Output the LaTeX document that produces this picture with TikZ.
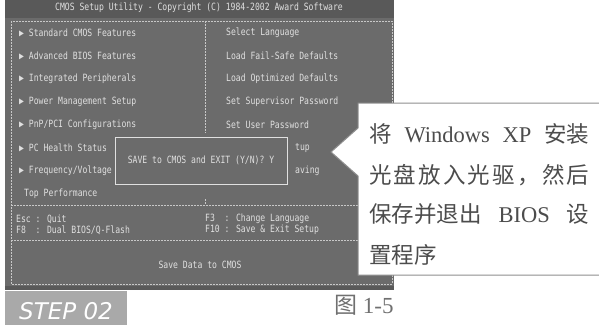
\documentclass[tikz,border=0pt]{standalone}
\usepackage{fontspec}
\setmainfont{Liberation Serif}
\setsansfont{DejaVu Sans}
\newfontfamily\biosfont[FakeStretch=0.81]{DejaVu Sans Mono}
\newfontfamily\cjk{Noto Sans CJK SC}
\usepackage{tikz}
\usetikzlibrary{backgrounds,calc}
\definecolor{screengray}{HTML}{6B6B6B}
\definecolor{titlegray}{HTML}{595959}
\definecolor{biostext}{HTML}{E0E0E0}
\definecolor{framegray}{HTML}{C8C8C8}
\definecolor{stepgray}{HTML}{A9A9A9}
\definecolor{calloutline}{HTML}{8E8E8E}
\definecolor{notetext}{HTML}{4C4C4C}
\definecolor{captiongray}{HTML}{707070}

\tikzset{
  bios/.style={anchor=west, inner sep=0pt, text=biostext,
    font=\biosfont\fontsize{10}{10}\selectfont},
  frame/.style={framegray, dash pattern=on 2pt off 1pt, line width=0.8pt},
  note/.style={anchor=west, inner sep=0pt, text=notetext,
    font=\fontsize{22.5}{22.5}\selectfont},
}

\begin{document}
\begin{tikzpicture}[x=1pt,y=-1pt]
\useasboundingbox (0,0) rectangle (599,325);
% screen
\fill[screengray] (5,0) rectangle (394,290);
\fill[titlegray] (5,0) rectangle (394,18);
\fill[titlegray] (5,286) rectangle (394,290);
\node[bios, anchor=center] (title) at (199,8) {CMOS Setup Utility - Copyright (C) 1984-2002 Award Software};
\draw[frame] (11,21) rectangle (392,284);
\draw[frame] (205,21) -- (205,133);
\draw[frame] (205,199) -- (205,205);
\draw[frame] (11,205) -- (392,205);
\draw[frame] (11,240) -- (392,240);
% left column
\node[bios] (std) at (19,33) {▶ Standard CMOS Features};
\node[bios] (adv) at (19,56) {▶ Advanced BIOS Features};
\node[bios] (integ) at (19,79) {▶ Integrated Peripherals};
\node[bios] (power) at (19,102) {▶ Power Management Setup};
\node[bios] (pnp) at (19,125) {▶ PnP/PCI Configurations};
\node[bios] (health) at (19,148) {▶ PC Health Status};
\node[bios] (freq) at (19,171) {▶ Frequency/Voltage};
\node[bios] (topperf) at (24,194) {Top Performance};
% right column
\node[bios] (lang) at (226,33) {Select Language};
\node[bios] (failsafe) at (226,56) {Load Fail-Safe Defaults};
\node[bios] (optim) at (226,79) {Load Optimized Defaults};
\node[bios] (superpw) at (226,102) {Set Supervisor Password};
\node[bios] (userpw) at (226,125) {Set User Password};
\node[bios] (saveexit) at (295,148) {tup};
\node[bios] (nosave) at (295,171) {aving};
% dialog
\node[bios, anchor=center, draw=biostext, fill=screengray, line width=0.8pt,
  minimum width=172pt, minimum height=47pt] (dialog) at (201,160.5)
  {SAVE to CMOS and EXIT (Y/N)? Y};
% key help
\node[bios] (esc) at (16,219) {Esc : Quit};
\node[bios] (feight) at (16,230) {F8\ \ : Dual BIOS/Q-Flash};
\node[bios] (fthree) at (205,219) {F3\ \ : Change Language};
\node[bios] (ften) at (205,230) {F10 : Save \& Exit Setup};
\node[bios, anchor=center] (status) at (200,265) {Save Data to CMOS};
% step tab
\fill[stepgray] (5,291) rectangle (127,325);
\node[text=white, inner sep=0pt, font=\sffamily\itshape\fontsize{23}{23}\selectfont]
  (step) at (66,311) {STEP 02};
% callout
\draw[calloutline, fill=white, line width=1pt]
  (358,103) -- (601,103) -- (601,275) -- (358,275) -- (358,176)
  -- (331,152) -- (358,128) -- cycle;
\node[note] (lineA) at (369,134) {\makebox[220pt][s]{{\cjk 将} Windows XP {\cjk 安装}}};
\node[note] (lineB) at (369,175) {\makebox[220pt][s]{\cjk 光\hfill 盘\hfill 放\hfill 入\hfill 光\hfill 驱\hfill ，\hfill 然\hfill 后}};
\node[note] (lineC) at (369,214) {\makebox[220pt][s]{{\cjk 保存并退出} BIOS {\cjk 设}}};
\node[note] (lineD) at (369,255) {\cjk 置程序};
% caption
\node[anchor=west, inner sep=0pt, text=captiongray, font=\fontsize{23}{23}\selectfont]
  (caption) at (334,305) {{\cjk 图} 1-5};
\end{tikzpicture}
\end{document}
